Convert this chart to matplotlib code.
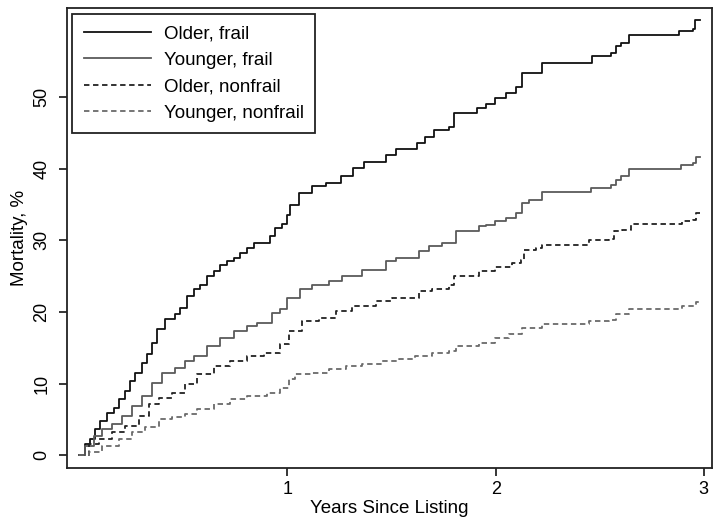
import matplotlib
matplotlib.use("Agg")
import matplotlib.pyplot as plt

plt.rcParams["font.family"] = ["Liberation Sans", "DejaVu Sans"]

# step points (years, %)
t_of = [0.0, 0.029, 0.053, 0.077, 0.101, 0.133, 0.165, 0.189, 0.221, 0.245, 0.269, 0.301,
        0.325, 0.349, 0.373, 0.413, 0.462, 0.486, 0.518, 0.55, 0.582, 0.614, 0.646, 0.678,
        0.71, 0.742, 0.774, 0.806, 0.838, 0.918, 0.942, 0.974, 0.998, 1.013, 1.054, 1.119,
        1.183, 1.255, 1.314, 1.37, 1.471, 1.519, 1.624, 1.663, 1.703, 1.776, 1.8, 1.912,
        1.952, 1.998, 2.048, 2.096, 2.128, 2.224, 2.465, 2.553, 2.577, 2.6, 2.641, 2.881,
        2.946, 2.958, 2.98]
v_of = [0.0, 1.5, 2.2, 3.6, 4.8, 5.95, 6.6, 7.8, 9.0, 10.4, 11.5, 12.9,
        14.1, 15.7, 17.6, 19.0, 19.7, 20.6, 22.2, 23.2, 23.8, 25.0, 25.7, 26.5,
        27.1, 27.6, 28.2, 29.0, 29.7, 30.6, 31.8, 32.3, 33.6, 35.0, 36.6, 37.6,
        38.0, 39.0, 40.1, 41.0, 42.0, 42.8, 43.6, 44.5, 45.4, 45.9, 47.8, 48.5,
        49.0, 49.9, 50.6, 51.5, 53.4, 54.8, 55.7, 56.2, 57.1, 57.6, 58.7, 59.3,
        59.6, 60.8, 60.8]

t_yf = [0.0, 0.029, 0.069, 0.109, 0.157, 0.205, 0.253, 0.301, 0.349, 0.397, 0.462, 0.51,
        0.55, 0.614, 0.678, 0.742, 0.806, 0.854, 0.926, 0.966, 0.998, 1.062, 1.119,
        1.199, 1.263, 1.359, 1.471, 1.519, 1.631, 1.679, 1.744, 1.808, 1.92, 1.952,
        1.998, 2.048, 2.096, 2.128, 2.16, 2.224, 2.457, 2.553, 2.577, 2.6, 2.641, 2.89,
        2.946, 2.962, 2.98]
v_yf = [0.0, 1.3, 2.7, 3.6, 4.3, 5.5, 6.9, 8.3, 10.1, 11.5, 12.2, 13.2,
        13.9, 15.2, 16.4, 17.3, 18.0, 18.5, 19.9, 20.4, 22.0, 23.2, 23.8,
        24.3, 25.0, 25.9, 27.1, 27.6, 28.5, 29.2, 29.7, 31.3, 32.0, 32.2,
        32.7, 33.2, 33.8, 35.2, 35.7, 36.7, 37.3, 37.8, 38.5, 39.0, 40.0, 40.6,
        40.8, 41.6, 41.6]

t_on = [0.0, 0.045, 0.093, 0.157, 0.221, 0.285, 0.333, 0.381, 0.445, 0.51, 0.566, 0.646,
        0.726, 0.806, 0.886, 0.966, 1.006, 1.071, 1.151, 1.231, 1.311, 1.423, 1.503,
        1.631, 1.695, 1.776, 1.8, 1.92, 1.998, 2.08, 2.12, 2.136, 2.192, 2.224, 2.449,
        2.545, 2.569, 2.609, 2.649, 2.897, 2.946, 2.962, 2.98]
v_on = [0.0, 1.5, 2.2, 3.2, 4.1, 5.5, 7.1, 8.0, 8.7, 9.9, 11.3, 12.5,
        13.2, 13.9, 14.3, 15.5, 17.3, 18.7, 19.2, 20.1, 20.8, 21.5, 22.0,
        22.9, 23.2, 23.8, 25.0, 25.7, 26.3, 26.9, 27.3, 28.7, 29.0, 29.3, 30.1,
        30.2, 31.3, 31.5, 32.3, 32.7, 32.8, 33.8, 33.8]

t_yn = [0.0, 0.045, 0.109, 0.189, 0.253, 0.317, 0.381, 0.445, 0.51, 0.566, 0.646, 0.726,
        0.806, 0.902, 0.966, 1.006, 1.038, 1.119, 1.199, 1.279, 1.359, 1.455, 1.535,
        1.615, 1.695, 1.776, 1.808, 1.92, 1.998, 2.064, 2.128, 2.224, 2.449, 2.545,
        2.577, 2.641, 2.897, 2.946, 2.962, 2.98]
v_yn = [0.0, 0.4, 1.3, 2.2, 3.2, 3.9, 5.0, 5.3, 5.7, 6.4, 7.1, 7.8,
        8.3, 8.7, 9.4, 10.6, 11.3, 11.5, 12.0, 12.5, 12.7, 13.2, 13.4,
        13.8, 14.3, 14.5, 15.2, 15.7, 16.3, 16.9, 17.8, 18.3, 18.7, 18.9,
        19.7, 20.4, 20.8, 20.9, 21.4, 21.4]

labels = ["Older, frail", "Younger, frail", "Older, nonfrail", "Younger, nonfrail"]
x_ticks = [1, 2, 3]
y_ticks = [0, 10, 20, 30, 40, 50]

fig = plt.figure(figsize=(7.15, 5.2), dpi=100)
ax = fig.add_axes([0.094, 0.1, 0.902, 0.885])

dash = (0, (3, 2))
ax.plot(t_of, v_of, drawstyle="steps-post", color="#111111", lw=1.3, label=labels[0])
ax.plot(t_yf, v_yf, drawstyle="steps-post", color="#5a5a5a", lw=1.3, label=labels[1])
ax.plot(t_on, v_on, drawstyle="steps-post", color="#222222", lw=1.3, ls=dash, label=labels[2])
ax.plot(t_yn, v_yn, drawstyle="steps-post", color="#6a6a6a", lw=1.3, ls=dash, label=labels[3])

ax.set_xlim(-0.058, 3.04)
ax.set_ylim(-1.8, 62.5)
ax.set_xticks(x_ticks)
ax.set_yticks(y_ticks)
ax.tick_params(axis="both", direction="out", length=6, width=1.1, labelsize=13)
ax.tick_params(axis="y", labelrotation=90, pad=6)
for lab in ax.get_yticklabels():
    lab.set_va("center")
for s in ax.spines.values():
    s.set_linewidth(1.3)
    s.set_color("#222222")

ax.set_xlabel("Years Since Listing", fontsize=13.5, labelpad=1)
ax.set_ylabel("Mortality, %", fontsize=13.5, labelpad=4)

leg = ax.legend(loc="upper left", bbox_to_anchor=(0.008, 0.987), borderaxespad=0,
                fontsize=13.5, handlelength=3.6, handletextpad=0.7, labelspacing=0.5,
                borderpad=0.6, fancybox=False, edgecolor="#222222", framealpha=1)
leg.get_frame().set_linewidth(1.3)

fig.savefig("out.png", dpi=100)
